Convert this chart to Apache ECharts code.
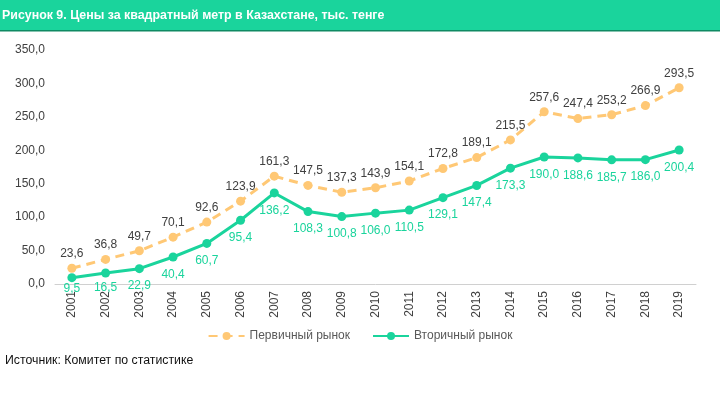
<!DOCTYPE html>
<html><head><meta charset="utf-8">
<script src="https://cdn.jsdelivr.net/npm/echarts@6/dist/echarts.min.js"></script>
<style>html,body{margin:0;padding:0;background:#fff}#c{width:720px;height:394px}</style>
</head><body><div id="c"></div>
<script>
const years = ['2001','2002','2003','2004','2005','2006','2007','2008','2009','2010','2011','2012','2013','2014','2015','2016','2017','2018','2019'];
const primary = [23.6,36.8,49.7,70.1,92.6,123.9,161.3,147.5,137.3,143.9,154.1,172.8,189.1,215.5,257.6,247.4,253.2,266.9,293.5];
const secondary = [9.5,16.5,22.9,40.4,60.7,95.4,136.2,108.3,100.8,106.0,110.5,129.1,147.4,173.3,190.0,188.6,185.7,186.0,200.4];
const seriesNames = ['Первичный рынок','Вторичный рынок'];
const title = 'Рисунок 9. Цены за квадратный метр в Казахстане, тыс. тенге';
const source = 'Источник: Комитет по статистике';

const fmt = v => v.toFixed(1).replace('.', ',');
const secData = secondary.map((v, i) => {
  const lift = [-6, -3, -1][i];
  return lift ? {value: v, label: {offset: [0, lift]}} : v;
});
const chart = echarts.init(document.getElementById('c'));
chart.setOption({
  animation:false,
  textStyle:{fontFamily:'Liberation Sans, Arial, sans-serif'},
  graphic:[
    {type:'rect',left:0,top:0,shape:{width:720,height:30},style:{fill:'#1ad49c'}},
    {type:'rect',left:0,top:30,shape:{width:720,height:1.5},style:{fill:'#0f8a63'}},
    {type:'text',left:2,top:10,style:{text:title,fill:'#fff',font:'bold 12.4px Liberation Sans, Arial, sans-serif'}},
    {type:'text',left:5,top:355,style:{text:source,fill:'#111',font:'12.3px Liberation Sans, Arial, sans-serif'}}
  ],
  legend:{
    top:325,left:'center',itemGap:22,itemWidth:36,itemHeight:10,
    textStyle:{color:'#595959',fontSize:12},
    data:seriesNames
  },
  grid:{left:55,right:24,top:50,bottom:110},
  xAxis:{
    type:'category',data:years,boundaryGap:true,
    axisLine:{lineStyle:{color:'#d0d0d0'}},axisTick:{show:false},
    axisLabel:{rotate:90,color:'#404040',fontSize:12,margin:7}
  },
  yAxis:{
    type:'value',min:0,max:350,interval:50,
    axisLine:{show:false},axisTick:{show:false},splitLine:{show:false},
    axisLabel:{color:'#404040',fontSize:12,margin:10,formatter:v=>fmt(v)}
  },
  series:[
    {name:seriesNames[0],type:'line',data:primary,symbol:'circle',symbolSize:9,
     lineStyle:{color:'#ffc875',width:3,type:[9,6]},itemStyle:{color:'#ffc875'},
     label:{show:true,position:'top',distance:4,color:'#404040',fontSize:12,formatter:p=>fmt(p.value)}},
    {name:seriesNames[1],type:'line',data:secData,symbol:'circle',symbolSize:9,
     lineStyle:{color:'#1ad49c',width:3},itemStyle:{color:'#1ad49c'},
     label:{show:true,position:'bottom',distance:7,color:'#1ad49c',fontSize:12,formatter:p=>fmt(p.value)}}
  ]
});
</script></body></html>
